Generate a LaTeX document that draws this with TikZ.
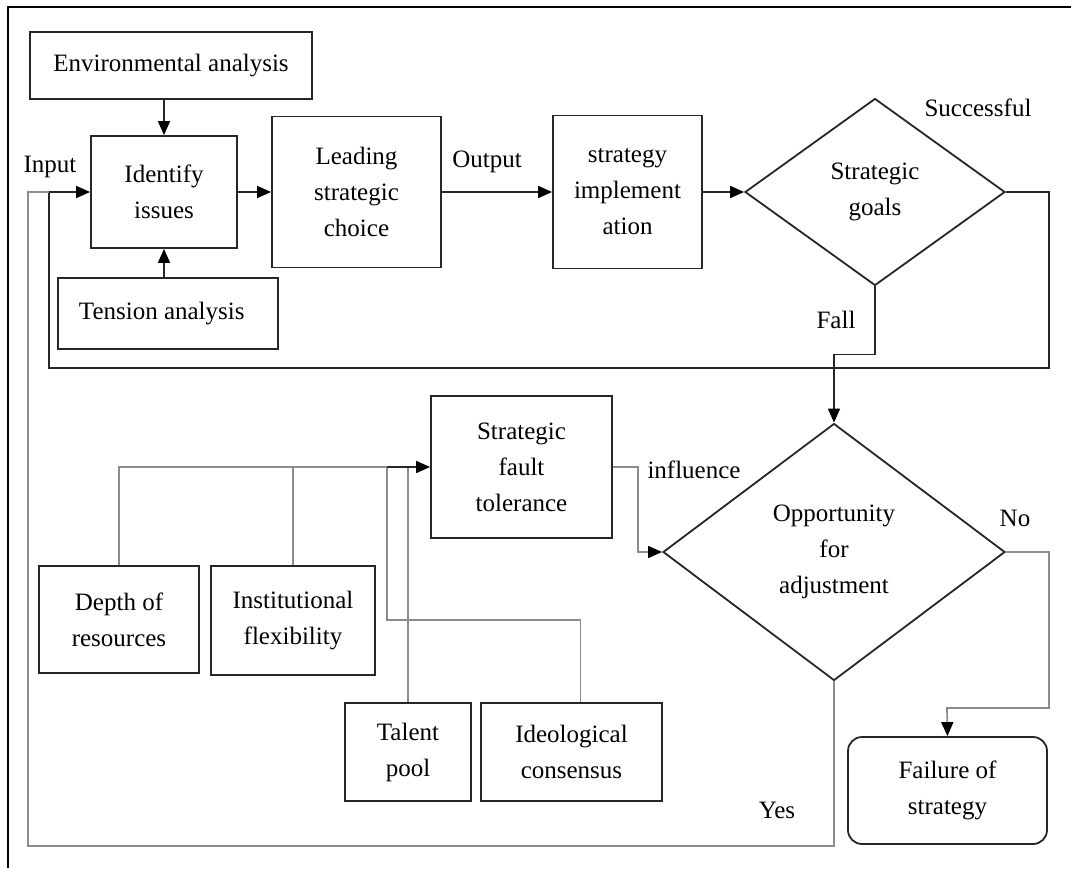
\documentclass[tikz,border=0pt]{standalone}
\usepackage{fontspec}
\setmainfont{Liberation Serif}
\usetikzlibrary{shapes.geometric,arrows.meta}
\begin{document}
\begin{tikzpicture}[x=1pt,y=-1pt,
  font=\fontsize{25}{36}\selectfont,
  box/.style={draw=black!85,line width=1.8pt,align=center,inner sep=0pt},
  dia/.style={draw=black!85,line width=1.8pt,diamond,align=center,inner sep=0pt,aspect=1},
  ln/.style={line width=1.7pt,black!85},
  gln/.style={line width=1.7pt,black!45},
  arr/.style={-{Triangle[length=14pt,width=12pt,color=black]}},
  lbl/.style={inner sep=0pt}]
\useasboundingbox (0,0) rectangle (1071,868);
% outer frame (left and top edges visible)
\draw[line width=2.5pt] (8,868) -- (8,7) -- (1071,7);

% top row
\node[box,minimum width=282,minimum height=67] (env) at (171,65.5) {Environmental analysis};
\node[box,minimum width=146,minimum height=112] (identify) at (164,192) {Identify\\issues};
\node[box,minimum width=220,minimum height=71] (tension) at (168,313.5) {Tension analysis\phantom{p}};
\node[box,minimum width=169,minimum height=151] (leading) at (356.5,192) {Leading\\strategic\\choice};
\node[box,minimum width=149,minimum height=153] (impl) at (627.5,192) {strategy\\implement\\ation};
\node[dia,minimum width=260,minimum height=187] (goals) at (875,192) {Strategic\\goals};

% lower part
\node[box,minimum width=181,minimum height=142] (fault) at (521.5,467) {Strategic\\fault\\tolerance};
\node[dia,minimum width=342,minimum height=257] (opp) at (834,552) {Opportunity\\for\\adjustment};
\node[box,minimum width=160,minimum height=107] (depth) at (119,619.5) {Depth of\\resources};
\node[box,minimum width=164,minimum height=109] (inst) at (293,620.5) {Institutional\\flexibility};
\node[box,minimum width=126,minimum height=98] (talent) at (408,752) {Talent\\pool};
\node[box,minimum width=181,minimum height=98] (ideo) at (571.5,752) {Ideological\\consensus};
\node[box,rounded corners=14pt,minimum width=199,minimum height=107] (fail) at (947.5,790.5) {Failure of\\strategy};

% labels
\node[lbl] (linput) at (50,167) {Input};
\node[lbl] (loutput) at (487,162) {Output};
\node[lbl] (lsucc) at (978,108) {Successful};
\node[lbl] (lfall) at (836,320) {Fall};
\node[lbl] (linfl) at (694,470) {influence};
\node[lbl] (lno) at (1015,518) {No};
\node[lbl] (lyes) at (777,810) {Yes};

% junctions
\coordinate (jn) at (49,192);
\coordinate (fj) at (387,467);

% top connectors
\draw[ln,arr] (env.south -| identify) -- (identify.north);
\draw[ln,arr] (tension.north -| identify) -- (identify.south);
\draw[ln,arr] (identify.east) -- (leading.west);
\draw[ln,arr] (leading.east) -- (impl.west);
\draw[ln,arr] (impl.east) -- (goals.west);

% successful loop back to input
\draw[ln] (goals.east) -- (1049,192) |- (49,368) -- (jn);
\draw[ln,arr] (jn) -- (identify.west);

% yes loop
\draw[gln] (opp.south) |- (28,846) |- (jn);

% fall
\draw[ln,arr] (goals.south) -- ++(0,68) -| (opp.north);

% no
\draw[gln,arr] (opp.east) -- (1049,552) |- (947,708) -- (fail.north);

% influence
\draw[gln,arr] (fault.east) -- (638,467) |- (opp.west);

% feeders into fault tolerance
\draw[gln] (depth.north) |- (fj);
\draw[gln] (inst.north) -- (inst.north |- fj);
\draw[gln] (talent.north) -- (talent.north |- fj);
\draw[gln] ([xshift=9pt]ideo.north) |- (387,620) -- (fj);
\draw[ln,arr] (fj) -- (fault.west);
\end{tikzpicture}
\end{document}
